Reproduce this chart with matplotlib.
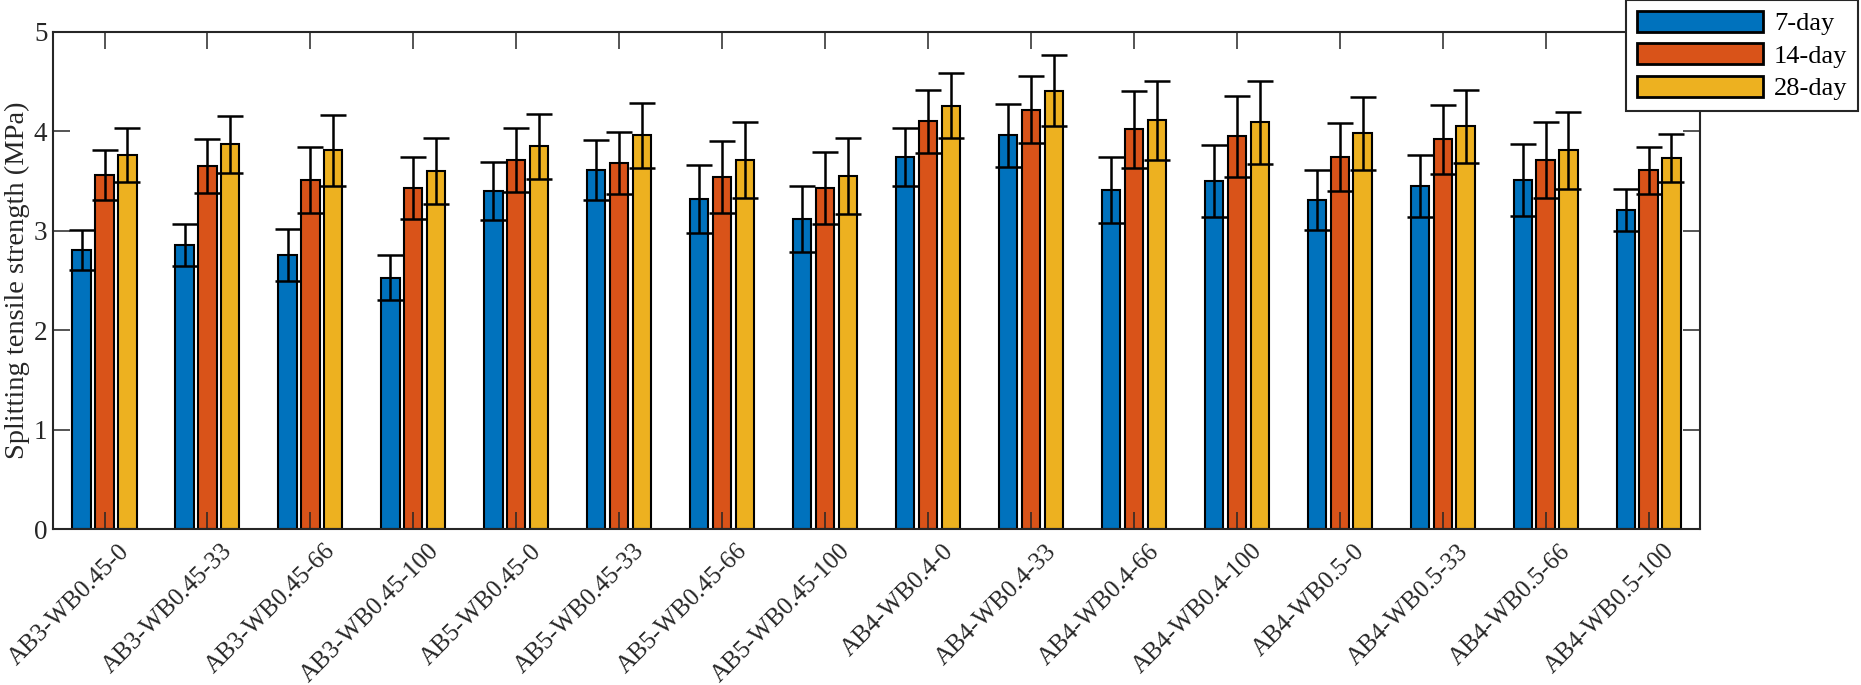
import matplotlib

matplotlib.use("Agg")
import matplotlib.pyplot as plt
import matplotlib.transforms as mtransforms
import numpy as np

# group labels (x axis)
groups = [
    "AB3-WB0.45-0", "AB3-WB0.45-33", "AB3-WB0.45-66", "AB3-WB0.45-100",
    "AB5-WB0.45-0", "AB5-WB0.45-33", "AB5-WB0.45-66", "AB5-WB0.45-100",
    "AB4-WB0.4-0", "AB4-WB0.4-33", "AB4-WB0.4-66", "AB4-WB0.4-100",
    "AB4-WB0.5-0", "AB4-WB0.5-33", "AB4-WB0.5-66", "AB4-WB0.5-100",
]
series_names = ["7-day", "14-day", "28-day"]

# mean splitting tensile strength (MPa) and error half-widths
day7 = [2.81, 2.86, 2.76, 2.53, 3.40, 3.61, 3.32, 3.12, 3.74, 3.96, 3.41, 3.50, 3.31, 3.45, 3.51, 3.21]
err7 = [0.20, 0.21, 0.26, 0.23, 0.29, 0.30, 0.34, 0.33, 0.29, 0.32, 0.33, 0.36, 0.30, 0.31, 0.36, 0.21]
day14 = [3.56, 3.65, 3.51, 3.43, 3.71, 3.68, 3.54, 3.43, 4.10, 4.22, 4.02, 3.95, 3.74, 3.92, 3.71, 3.61]
err14 = [0.25, 0.27, 0.33, 0.31, 0.32, 0.31, 0.36, 0.365, 0.32, 0.34, 0.39, 0.405, 0.34, 0.35, 0.38, 0.235]
day28 = [3.76, 3.87, 3.81, 3.60, 3.85, 3.96, 3.71, 3.55, 4.26, 4.41, 4.11, 4.09, 3.98, 4.05, 3.81, 3.73]
err28 = [0.27, 0.285, 0.355, 0.33, 0.33, 0.33, 0.38, 0.38, 0.33, 0.36, 0.40, 0.42, 0.365, 0.365, 0.39, 0.24]

colors = ["#0072BD", "#D95319", "#EDB120"]
axis_col = "#262626"

plt.rcParams["font.family"] = ["Liberation Serif", "DejaVu Serif"]

fig = plt.figure(figsize=(18.61, 6.85), dpi=100)
ax = fig.add_axes([0.0285, 0.2277, 0.885, 0.7256])

x = np.arange(1, len(groups) + 1)
slot = 2.0 / 9.0  # MATLAB grouped-bar spacing for 3 series
width = 0.178

for i, (vals, errs) in enumerate([(day7, err7), (day14, err14), (day28, err28)]):
    pos = x + (i - 1) * slot
    ax.bar(pos, vals, width, color=colors[i], edgecolor="black", linewidth=1.5,
           label=series_names[i], zorder=1)
    ax.errorbar(pos, vals, yerr=errs, fmt="none", ecolor="black", elinewidth=1.8,
                capsize=9.2, capthick=1.8, zorder=2)

ax.set_xlim(0.5, len(groups) + 0.5)
ax.set_ylim(0, 5)
ax.set_xticks(x)
ax.set_yticks(range(0, 6))
ax.set_ylabel("Splitting tensile strength (MPa)", fontsize=20.5, color=axis_col, labelpad=3)

ax.tick_params(direction="in", length=12, width=1.1, color=axis_col, labelcolor=axis_col,
               labelsize=19.5, top=True, right=True)
ax.tick_params(axis="y", pad=4)
ax.tick_params(axis="x", pad=8, labelsize=18)
offset = mtransforms.ScaledTranslation(14 / 100, 0, fig.dpi_scale_trans)
ax.set_xticklabels(groups, rotation=45, ha="right", va="top", rotation_mode="anchor")
for lbl in ax.get_xticklabels():
    lbl.set_transform(lbl.get_transform() + offset)

for sp in ax.spines.values():
    sp.set_color(axis_col)
    sp.set_linewidth(1.5)

leg = ax.legend(loc="upper right", bbox_to_anchor=(1858 / 1861, 1.0),
                bbox_transform=fig.transFigure, fontsize=19, fancybox=False,
                framealpha=1, edgecolor=axis_col, handlelength=4.8, handleheight=0.85,
                labelspacing=0.3, handletextpad=0.4, borderpad=0.4, borderaxespad=0)
leg.get_frame().set_linewidth(1.5)
for h in leg.legend_handles:
    h.set_linewidth(2.0)

fig.savefig("out.png", dpi=100)
